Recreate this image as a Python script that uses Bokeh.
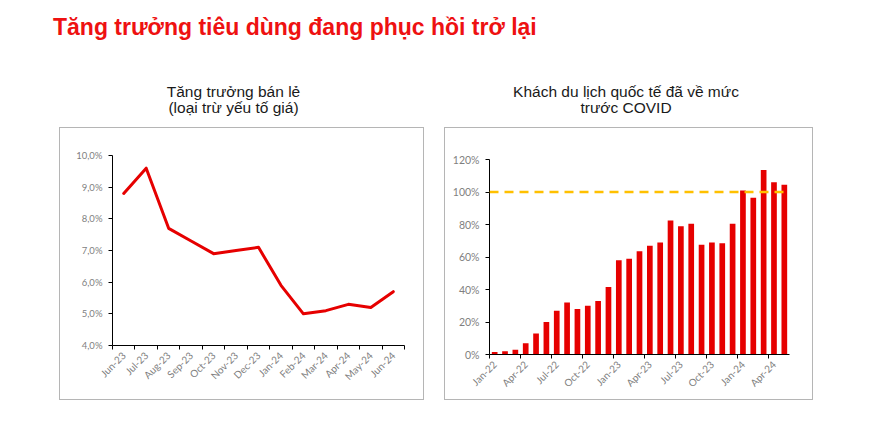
from math import pi
from bokeh.plotting import figure
from bokeh.models import Range1d, FixedTicker, Span, Div, ColumnDataSource
from bokeh.layouts import column, row
from bokeh.embed import file_html
from bokeh.resources import INLINE

# ---------------- data ----------------
main_title = "Tăng trưởng tiêu dùng đang phục hồi trở lại"

retail_title = "Tăng trưởng bán lẻ<br>(loại trừ yếu tố giá)"
retail_months = ["Jun-23", "Jul-23", "Aug-23", "Sep-23", "Oct-23", "Nov-23", "Dec-23",
                 "Jan-24", "Feb-24", "Mar-24", "Apr-24", "May-24", "Jun-24"]
retail_growth = [8.8, 9.6, 7.7, 7.3, 6.9, 7.0, 7.1, 5.9, 5.0, 5.1, 5.3, 5.2, 5.7]
retail_yticks = [4, 5, 6, 7, 8, 9, 10]
retail_ytick_labels = ["4,0%", "5,0%", "6,0%", "7,0%", "8,0%", "9,0%", "10,0%"]

tourist_title = "Khách du lịch quốc tế đã về mức<br>trước COVID"
tourist_months = ["Jan-22", "Feb-22", "Mar-22", "Apr-22", "May-22", "Jun-22", "Jul-22", "Aug-22",
                  "Sep-22", "Oct-22", "Nov-22", "Dec-22", "Jan-23", "Feb-23", "Mar-23", "Apr-23",
                  "May-23", "Jun-23", "Jul-23", "Aug-23", "Sep-23", "Oct-23", "Nov-23", "Dec-23",
                  "Jan-24", "Feb-24", "Mar-24", "Apr-24", "May-24"]
tourist_pct = [1.5, 2, 3, 7, 13, 20, 27, 32, 28, 30, 33, 41.5, 58, 59, 63.5, 67, 69, 82.5,
               79, 80.5, 67.5, 69, 68.5, 80.5, 101, 96.5, 113.5, 106, 104.5]
tourist_label_every = 3
tourist_yticks = [0, 20, 40, 60, 80, 100, 120]
tourist_ytick_labels = ["0%", "20%", "40%", "60%", "80%", "100%", "120%"]
covid_level = 100

# ---------------- styles ----------------
RED = "#e60000"
LABEL_FONT = "Lato"
LABEL_COLOR = "#7f7f7f"
BOX_STYLE = {"border": "1.5px solid #b5b5b5", "box-sizing": "border-box", "background": "#ffffff"}


def style_axes(p, ysize):
    p.toolbar_location = None
    p.xgrid.visible = False
    p.ygrid.visible = False
    p.outline_line_color = None
    p.background_fill_color = "white"
    p.border_fill_color = "white"
    for ax in (p.xaxis[0], p.yaxis[0]):
        ax.axis_line_color = "#000000"
        ax.axis_line_width = 1
        ax.major_label_text_font = LABEL_FONT
        ax.major_label_text_color = LABEL_COLOR
        ax.major_tick_line_color = "#000000"
        ax.minor_tick_line_color = "#000000"
    p.xaxis.major_label_text_font_size = "10px"
    p.yaxis.major_label_text_font_size = ysize
    # x axis: labels at category centres, tick marks (minor) at category edges
    p.xaxis.major_tick_in = 0
    p.xaxis.major_tick_out = 0
    p.xaxis.minor_tick_in = 0
    p.xaxis.minor_tick_out = 4
    p.xaxis.major_label_orientation = pi / 4
    p.xaxis.major_label_standoff = 4
    # y axis
    p.yaxis.major_tick_in = 0
    p.yaxis.major_tick_out = 4
    p.yaxis.minor_tick_in = 0
    p.yaxis.minor_tick_out = 0
    p.yaxis.major_label_standoff = 6


# ---------------- left chart: retail growth ----------------
n1 = len(retail_months)
src1 = ColumnDataSource(dict(x=[i + 0.5 for i in range(n1)], y=retail_growth))
p1 = figure(width=365, height=273, output_backend="svg", toolbar_location=None,
            x_range=Range1d(0, n1), y_range=Range1d(retail_yticks[0], retail_yticks[-1]),
            min_border_left=52, min_border_right=21, min_border_top=27, min_border_bottom=56,
            styles=BOX_STYLE, margin=(11, 0, 0, 0))
p1.line("x", "y", source=src1, line_color=RED, line_width=3, line_join="round", line_cap="round")
style_axes(p1, "9.5px")
p1.xaxis.ticker = FixedTicker(ticks=[i + 0.5 for i in range(n1)], minor_ticks=list(range(n1 + 1)))
p1.xaxis.major_label_overrides = {i + 0.5: m for i, m in enumerate(retail_months)}
p1.yaxis.ticker = FixedTicker(ticks=retail_yticks, minor_ticks=[])
p1.yaxis.major_label_overrides = dict(zip(retail_yticks, retail_ytick_labels))

# ---------------- right chart: international visitors ----------------
n2 = len(tourist_months)
src2 = ColumnDataSource(dict(x=[i + 0.5 for i in range(n2)], top=tourist_pct))
p2 = figure(width=369, height=273, output_backend="svg", toolbar_location=None,
            x_range=Range1d(0, n2), y_range=Range1d(tourist_yticks[0], tourist_yticks[-1]),
            min_border_left=44, min_border_right=25, min_border_top=31, min_border_bottom=47,
            styles=BOX_STYLE, margin=(11, 0, 0, 0))
p2.vbar(x="x", top="top", bottom=0, width=0.55, source=src2, fill_color=RED, line_color=None)
p2.add_layout(Span(location=covid_level, dimension="width", line_color="#ffc000",
                   line_width=2.5, line_dash="9 6"))
style_axes(p2, "10.5px")
label_idx = list(range(0, n2, tourist_label_every))
p2.xaxis.ticker = FixedTicker(ticks=[i + 0.5 for i in label_idx], minor_ticks=label_idx)
p2.xaxis.major_label_overrides = {i + 0.5: tourist_months[i] for i in label_idx}
p2.yaxis.ticker = FixedTicker(ticks=tourist_yticks, minor_ticks=[])
p2.yaxis.major_label_overrides = dict(zip(tourist_yticks, tourist_ytick_labels))

# ---------------- titles / layout ----------------
title_div = Div(text=main_title, width=760, height=30, margin=(12, 0, 0, 53),
                styles={"font-family": "Liberation Sans", "font-size": "23px", "font-weight": "bold",
                        "color": "#ee1111", "line-height": "30px", "white-space": "nowrap"})
sub_style = {"font-family": "Liberation Sans", "font-size": "15.5px", "color": "#1a1a1a",
             "line-height": "16px", "text-align": "center", "white-space": "nowrap"}
left_title = Div(text=retail_title, width=349, height=32, margin=(42, 0, 0, 0), styles=sub_style)
right_title = Div(text=tourist_title, width=364, height=32, margin=(42, 0, 0, 0), styles=sub_style)

left_col = column(left_title, p1, margin=(0, 0, 0, 59))
right_col = column(right_title, p2, margin=(0, 0, 0, 20))
layout = column(title_div, row(left_col, right_col, margin=0), margin=0,
                styles={"background": "#ffffff"})

open("out.html", "w").write(file_html(layout, INLINE))
